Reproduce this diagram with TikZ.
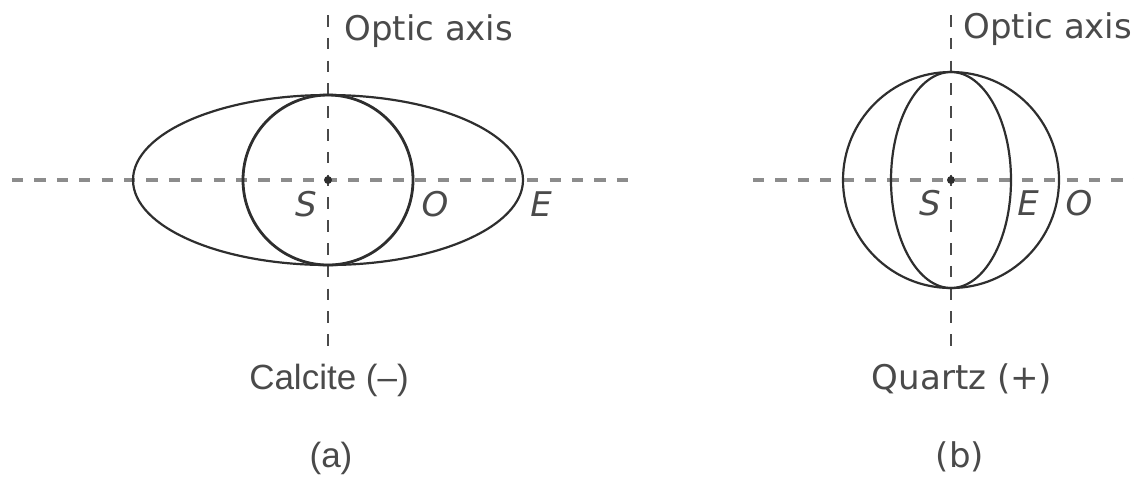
\documentclass[tikz,border=0pt]{standalone}
\usepackage{fontspec}
\setmainfont{DejaVu Sans}
\newfontfamily\helvfont{Liberation Sans}
\usepackage{tikz}
\definecolor{axisGray}{HTML}{8C8C8C}
\definecolor{inkDark}{HTML}{2E2E2E}
\definecolor{inkMid}{HTML}{4A4A4A}
\tikzset{
  optaxis/.style={draw=inkMid, line width=1pt, dash pattern=on 5.8pt off 5.6pt},
  planeaxis/.style={draw=axisGray, line width=1.8pt, dash pattern=on 5.6pt off 5.6pt},
  surface/.style={draw=inkDark, line width=1.1pt},
  ptlabel/.style={anchor=base, font=\fontsize{17}{20}\selectfont\itshape},
}

\begin{document}
\begin{tikzpicture}[x=0.5pt,y=-0.5pt, every node/.style={font=\fontsize{17}{20}\selectfont, text=inkMid, inner sep=0pt}]
  \useasboundingbox (0,0) rectangle (1134,479);
  % (a) calcite, negative crystal
  \coordinate (sA) at (328,180);
  \coordinate (aTop) at (328,15);
  \coordinate (aBot) at (328,348);
  \coordinate (aLeft) at (12,180);
  \coordinate (aRight) at (637,180);
  \draw[planeaxis] (aLeft) -- (aRight);
  \draw[optaxis] (aTop) -- (aBot);
  \draw[surface] (sA) ellipse [x radius=195, y radius=85];
  \draw[surface, line width=1.4pt] (sA) circle [radius=85];
  \fill[inkDark] (sA) circle [radius=4];
  \node[anchor=base west] (axisA) at (344,40) {Optic axis};
  \node[ptlabel] (labSA) at (306,216) {S};
  \node[ptlabel] (labOA) at (435,216) {O};
  \node[ptlabel] (labEA) at (541,216) {E};
  \node[anchor=base, font=\helvfont\fontsize{17.5}{20}\selectfont] (calcite) at (329,389) {Calcite (–)};
  \node[anchor=base, font=\helvfont\fontsize{17.5}{20}\selectfont] (capA) at (331,467) {(a)};
  % (b) quartz, positive crystal
  \coordinate (sB) at (951,180);
  \coordinate (bTop) at (951,15);
  \coordinate (bBot) at (951,348);
  \coordinate (bLeft) at (753,180);
  \coordinate (bRight) at (1134,180);
  \draw[planeaxis] (bLeft) -- (bRight);
  \draw[optaxis] (bTop) -- (bBot);
  \draw[surface] (sB) circle [radius=108];
  \draw[surface] (sB) ellipse [x radius=60, y radius=108];
  \fill[inkDark] (sB) circle [radius=4];
  \node[anchor=base west] (axisB) at (963,38) {Optic axis};
  \node[ptlabel] (labSB) at (930,215) {S};
  \node[ptlabel] (labEB) at (1028,215) {E};
  \node[ptlabel] (labOB) at (1079,215) {O};
  \node[anchor=base] (quartz) at (962,389) {Quartz (+)};
  \node[anchor=base] (capB) at (960,467) {(b)};
\end{tikzpicture}
\end{document}
